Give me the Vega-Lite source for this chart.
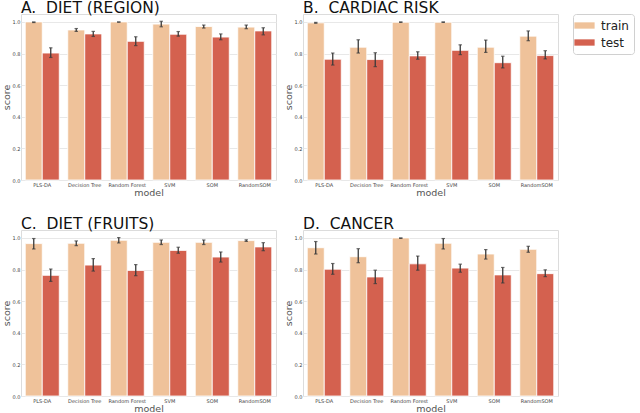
{
  "$schema": "https://vega.github.io/schema/vega-lite/v6.json",
  "padding": {"left": 0, "top": 0, "right": 1, "bottom": 1},
  "background": "white",
  "config": {
    "font": "DejaVu Sans",
    "view": {"stroke": "#dcdcdc", "strokeWidth": 1},
    "axis": {"domain": false, "ticks": false, "labelFontSize": 5, "labelColor": "#444", "titleFontSize": 9.5, "titleFontWeight": "normal", "titleColor": "#555", "gridColor": "#e8e8e8", "labelOverlap": false}
  },
  "data": {
    "values": [
      {"panel": "A.\u00a0\u00a0DIET (REGION)", "model": "PLS-DA", "set": "train", "score": 1.0, "lo": 0.996, "hi": 1.0},
      {"panel": "A.\u00a0\u00a0DIET (REGION)", "model": "PLS-DA", "set": "test", "score": 0.803, "lo": 0.775, "hi": 0.836},
      {"panel": "A.\u00a0\u00a0DIET (REGION)", "model": "Decision Tree", "set": "train", "score": 0.949, "lo": 0.94, "hi": 0.958},
      {"panel": "A.\u00a0\u00a0DIET (REGION)", "model": "Decision Tree", "set": "test", "score": 0.924, "lo": 0.908, "hi": 0.94},
      {"panel": "A.\u00a0\u00a0DIET (REGION)", "model": "Random Forest", "set": "train", "score": 1.0, "lo": 0.998, "hi": 1.0},
      {"panel": "A.\u00a0\u00a0DIET (REGION)", "model": "Random Forest", "set": "test", "score": 0.877, "lo": 0.85, "hi": 0.906},
      {"panel": "A.\u00a0\u00a0DIET (REGION)", "model": "SVM", "set": "train", "score": 0.986, "lo": 0.969, "hi": 1.004},
      {"panel": "A.\u00a0\u00a0DIET (REGION)", "model": "SVM", "set": "test", "score": 0.922, "lo": 0.91, "hi": 0.939},
      {"panel": "A.\u00a0\u00a0DIET (REGION)", "model": "SOM", "set": "train", "score": 0.971, "lo": 0.961, "hi": 0.98},
      {"panel": "A.\u00a0\u00a0DIET (REGION)", "model": "SOM", "set": "test", "score": 0.904, "lo": 0.887, "hi": 0.924},
      {"panel": "A.\u00a0\u00a0DIET (REGION)", "model": "RandomSOM", "set": "train", "score": 0.967, "lo": 0.957, "hi": 0.98},
      {"panel": "A.\u00a0\u00a0DIET (REGION)", "model": "RandomSOM", "set": "test", "score": 0.943, "lo": 0.918, "hi": 0.963},
      {"panel": "B.\u00a0\u00a0CARDIAC RISK", "model": "PLS-DA", "set": "train", "score": 0.994, "lo": 0.991, "hi": 0.997},
      {"panel": "B.\u00a0\u00a0CARDIAC RISK", "model": "PLS-DA", "set": "test", "score": 0.764, "lo": 0.727, "hi": 0.803},
      {"panel": "B.\u00a0\u00a0CARDIAC RISK", "model": "Decision Tree", "set": "train", "score": 0.84, "lo": 0.803, "hi": 0.887},
      {"panel": "B.\u00a0\u00a0CARDIAC RISK", "model": "Decision Tree", "set": "test", "score": 0.762, "lo": 0.717, "hi": 0.805},
      {"panel": "B.\u00a0\u00a0CARDIAC RISK", "model": "Random Forest", "set": "train", "score": 0.998, "lo": 0.997, "hi": 1.0},
      {"panel": "B.\u00a0\u00a0CARDIAC RISK", "model": "Random Forest", "set": "test", "score": 0.785, "lo": 0.764, "hi": 0.811},
      {"panel": "B.\u00a0\u00a0CARDIAC RISK", "model": "SVM", "set": "train", "score": 0.998, "lo": 0.997, "hi": 1.0},
      {"panel": "B.\u00a0\u00a0CARDIAC RISK", "model": "SVM", "set": "test", "score": 0.82, "lo": 0.793, "hi": 0.855},
      {"panel": "B.\u00a0\u00a0CARDIAC RISK", "model": "SOM", "set": "train", "score": 0.84, "lo": 0.807, "hi": 0.885},
      {"panel": "B.\u00a0\u00a0CARDIAC RISK", "model": "SOM", "set": "test", "score": 0.742, "lo": 0.709, "hi": 0.783},
      {"panel": "B.\u00a0\u00a0CARDIAC RISK", "model": "RandomSOM", "set": "train", "score": 0.91, "lo": 0.881, "hi": 0.943},
      {"panel": "B.\u00a0\u00a0CARDIAC RISK", "model": "RandomSOM", "set": "test", "score": 0.787, "lo": 0.766, "hi": 0.818},
      {"panel": "C.\u00a0\u00a0DIET (FRUITS)", "model": "PLS-DA", "set": "train", "score": 0.964, "lo": 0.93, "hi": 0.996},
      {"panel": "C.\u00a0\u00a0DIET (FRUITS)", "model": "PLS-DA", "set": "test", "score": 0.763, "lo": 0.725, "hi": 0.803},
      {"panel": "C.\u00a0\u00a0DIET (FRUITS)", "model": "Decision Tree", "set": "train", "score": 0.966, "lo": 0.951, "hi": 0.981},
      {"panel": "C.\u00a0\u00a0DIET (FRUITS)", "model": "Decision Tree", "set": "test", "score": 0.828, "lo": 0.79, "hi": 0.869},
      {"panel": "C.\u00a0\u00a0DIET (FRUITS)", "model": "Random Forest", "set": "train", "score": 0.985, "lo": 0.968, "hi": 1.002},
      {"panel": "C.\u00a0\u00a0DIET (FRUITS)", "model": "Random Forest", "set": "test", "score": 0.794, "lo": 0.761, "hi": 0.831},
      {"panel": "C.\u00a0\u00a0DIET (FRUITS)", "model": "SVM", "set": "train", "score": 0.972, "lo": 0.958, "hi": 0.987},
      {"panel": "C.\u00a0\u00a0DIET (FRUITS)", "model": "SVM", "set": "test", "score": 0.921, "lo": 0.903, "hi": 0.941},
      {"panel": "C.\u00a0\u00a0DIET (FRUITS)", "model": "SOM", "set": "train", "score": 0.972, "lo": 0.958, "hi": 0.987},
      {"panel": "C.\u00a0\u00a0DIET (FRUITS)", "model": "SOM", "set": "test", "score": 0.879, "lo": 0.847, "hi": 0.911},
      {"panel": "C.\u00a0\u00a0DIET (FRUITS)", "model": "RandomSOM", "set": "train", "score": 0.983, "lo": 0.978, "hi": 0.988},
      {"panel": "C.\u00a0\u00a0DIET (FRUITS)", "model": "RandomSOM", "set": "test", "score": 0.943, "lo": 0.919, "hi": 0.97},
      {"panel": "D.\u00a0\u00a0CANCER", "model": "PLS-DA", "set": "train", "score": 0.938, "lo": 0.898, "hi": 0.977},
      {"panel": "D.\u00a0\u00a0CANCER", "model": "PLS-DA", "set": "test", "score": 0.802, "lo": 0.77, "hi": 0.838},
      {"panel": "D.\u00a0\u00a0CANCER", "model": "Decision Tree", "set": "train", "score": 0.881, "lo": 0.843, "hi": 0.932},
      {"panel": "D.\u00a0\u00a0CANCER", "model": "Decision Tree", "set": "test", "score": 0.753, "lo": 0.711, "hi": 0.796},
      {"panel": "D.\u00a0\u00a0CANCER", "model": "Random Forest", "set": "train", "score": 1.0, "lo": 0.997, "hi": 1.0},
      {"panel": "D.\u00a0\u00a0CANCER", "model": "Random Forest", "set": "test", "score": 0.836, "lo": 0.796, "hi": 0.885},
      {"panel": "D.\u00a0\u00a0CANCER", "model": "SVM", "set": "train", "score": 0.966, "lo": 0.93, "hi": 0.996},
      {"panel": "D.\u00a0\u00a0CANCER", "model": "SVM", "set": "test", "score": 0.809, "lo": 0.783, "hi": 0.834},
      {"panel": "D.\u00a0\u00a0CANCER", "model": "SOM", "set": "train", "score": 0.898, "lo": 0.866, "hi": 0.926},
      {"panel": "D.\u00a0\u00a0CANCER", "model": "SOM", "set": "test", "score": 0.766, "lo": 0.715, "hi": 0.813},
      {"panel": "D.\u00a0\u00a0CANCER", "model": "RandomSOM", "set": "train", "score": 0.928, "lo": 0.909, "hi": 0.947},
      {"panel": "D.\u00a0\u00a0CANCER", "model": "RandomSOM", "set": "test", "score": 0.774, "lo": 0.755, "hi": 0.798}
    ]
  },
  "facet": {
    "field": "panel",
    "type": "nominal",
    "title": null,
    "header": {"labelFontSize": 15.5, "labelFontWeight": "normal", "labelAnchor": "start", "labelColor": "#111", "labelPadding": -2, "labelFont": "DejaVu Sans"}
  },
  "columns": 2,
  "spacing": {"column": 5, "row": 19},
  "resolve": {"axis": {"x": "independent", "y": "independent"}},
  "spec": {
    "width": 255,
    "height": 166,
    "encoding": {
      "x": {"field": "model", "type": "nominal", "sort": null, "title": "model", "scale": {"paddingInner": 0.2, "paddingOuter": 0.1}, "axis": {"labelAngle": 0, "labelPadding": 2, "titlePadding": 0}},
      "xOffset": {"field": "set", "type": "nominal", "sort": ["train", "test"]},
      "y": {"field": "score", "type": "quantitative", "title": "score", "scale": {"domain": [0, 1.05], "nice": false}, "axis": {"values": [0, 0.2, 0.4, 0.6, 0.8, 1.0], "tickCount": 6, "format": ".1f", "labelPadding": 1, "titlePadding": 1, "labelOverlap": false}}
    },
    "layer": [
      {
        "mark": {"type": "bar", "stroke": "white", "strokeWidth": 0.8},
        "encoding": {
          "color": {
            "field": "set", "type": "nominal", "sort": ["train", "test"], "title": null,
            "scale": {"domain": ["train", "test"], "range": ["#efc29a", "#d4614f"]},
            "legend": {"orient": "right", "offset": 14, "labelFontSize": 12, "labelColor": "#222", "symbolType": "M-1.6,-0.5H1.6V0.5H-1.6Z", "symbolSize": 160, "symbolStrokeWidth": 0, "strokeColor": "#d0d0d0", "cornerRadius": 3, "padding": 5, "rowPadding": 4, "labelOffset": 10}
          }
        }
      },
      {
        "mark": {"type": "rule", "color": "#3a3a3a", "strokeWidth": 1.3},
        "encoding": {"y": {"field": "lo", "type": "quantitative"}, "y2": {"field": "hi"}}
      },
      {
        "mark": {"type": "tick", "color": "#3a3a3a", "size": 3.5, "thickness": 1.2, "orient": "horizontal"},
        "encoding": {"y": {"field": "lo", "type": "quantitative"}}
      },
      {
        "mark": {"type": "tick", "color": "#3a3a3a", "size": 3.5, "thickness": 1.2, "orient": "horizontal"},
        "encoding": {"y": {"field": "hi", "type": "quantitative"}}
      }
    ]
  }
}
